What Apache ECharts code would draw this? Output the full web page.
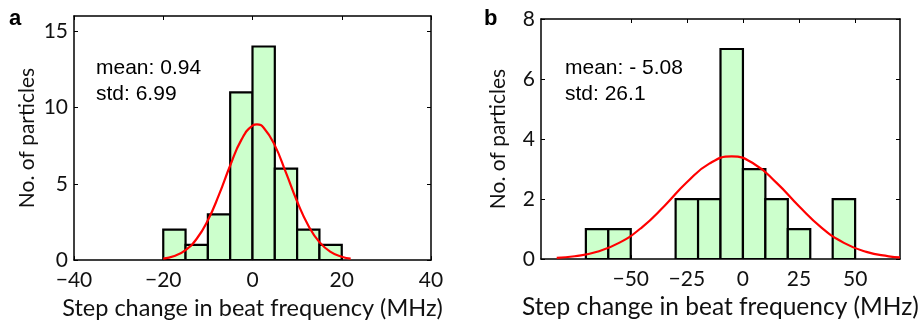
<!DOCTYPE html>
<html><head><meta charset="utf-8">
<script src="https://cdn.jsdelivr.net/npm/echarts@6/dist/echarts.min.js"></script>
<style>html,body{margin:0;padding:0;background:#fff}#c{width:924px;height:325px}</style>
</head><body><div id="c"></div>
<script>
// Panel a: histogram bins [start, end] and counts
const binsA = [[-20,-15],[-15,-10],[-10,-5],[-5,0],[0,5],[5,10],[10,15],[15,20]];
const countsA = [2,1,3,11,14,6,2,1];
// Panel a: fitted curve
const curveAx = [-20,-17.5,-15,-12.5,-10,-7.5,-5,-2.5,0,1,2.5,5,7.5,10,12.5,15,17.5,20,22];
const curveAy = [0.10,0.27,0.66,1.40,2.61,4.29,6.20,7.88,8.82,8.90,8.68,7.52,5.73,3.84,2.27,1.18,0.54,0.22,0.10];
const ticksAx = [-40,-20,0,20,40];
const ticksAy = [0,5,10,15];

// Panel b
const binsB = [[-70,-60],[-60,-50],[-30,-20],[-20,-10],[-10,0],[0,10],[10,20],[20,30],[40,50]];
const countsB = [1,1,2,2,7,3,2,1,2];
const curveBx = [-83,-75,-65,-55,-45,-35,-25,-15,-5,5,15,25,35,45,55,65,70];
const curveBy = [0.04,0.094,0.245,0.55,1.06,1.77,2.56,3.18,3.42,3.17,2.54,1.76,1.05,0.54,0.24,0.093,0.055];
const ticksBx = [-50,-25,0,25,50];
const ticksBy = [0,2,4,6,8];

const statsA = ['mean: 0.94','std: 6.99'];
const statsB = ['mean: - 5.08','std: 26.1'];
const xTitle = 'Step change in beat frequency (MHz)';
const yTitle = 'No. of particles';

const FONT = 'Lato';
const chart = echarts.init(document.getElementById('c'), null, {renderer:'canvas'});

function fmt(v){ return v < 0 ? '\u2212' + Math.abs(v) : String(v); }

function xAxes(gi, min, max, ticks){
  return [{
    type:'value', gridIndex:gi, min:min, max:max, position:'bottom',
    axisLine:{show:true, onZero:false, lineStyle:{color:'#000', width:1.5}},
    axisTick:{show:true, inside:true, length:4, customValues:ticks, lineStyle:{color:'#000',width:1}},
    axisLabel:{show:true, customValues:ticks, formatter:fmt, color:'#111', fontFamily:FONT, fontSize:21, margin:10},
    splitLine:{show:false},
    name: xTitle, nameLocation:'middle', nameGap:gi===0?33:31,
    nameTextStyle:{color:'#111', fontFamily:FONT, fontSize:gi===0?23.5:24.5}
  },{
    type:'value', gridIndex:gi, min:min, max:max, position:'top',
    axisLine:{show:true, onZero:false, lineStyle:{color:'#000', width:1.5}},
    axisTick:{show:true, inside:true, length:4, customValues:ticks, lineStyle:{color:'#000',width:1}},
    axisLabel:{show:false}, splitLine:{show:false}
  }];
}
function yAxes(gi, max, ticks){
  return [{
    type:'value', gridIndex:gi, min:0, max:max, position:'left',
    axisLine:{show:true, onZero:false, lineStyle:{color:'#000', width:1.5}},
    axisTick:{show:true, inside:true, length:4, customValues:ticks, lineStyle:{color:'#000',width:1}},
    axisLabel:{show:true, customValues:ticks, color:'#111', fontFamily:FONT, fontSize:21, margin:6},
    splitLine:{show:false},
    name: yTitle, nameLocation:'middle', nameGap:gi===0?36:32, nameRotate:90,
    nameTextStyle:{color:'#111', fontFamily:FONT, fontSize:21}
  },{
    type:'value', gridIndex:gi, min:0, max:max, position:'right',
    axisLine:{show:true, onZero:false, lineStyle:{color:'#000', width:1.5}},
    axisTick:{show:true, inside:true, length:4, customValues:ticks, lineStyle:{color:'#000',width:1}},
    axisLabel:{show:false}, splitLine:{show:false}
  }];
}

function histSeries(xi, yi, bins, counts){
  return {
    type:'custom', xAxisIndex:xi, yAxisIndex:yi, clip:true,
    data: bins.map((b,i)=>[b[0], b[1], counts[i]]),
    renderItem:function(params, api){
      const p0 = api.coord([api.value(0), api.value(2)]);
      const p1 = api.coord([api.value(1), 0]);
      return {type:'rect', shape:{x:p0[0], y:p0[1], width:p1[0]-p0[0], height:p1[1]-p0[1]},
        style:{fill:'#ccffcc', stroke:'#000', lineWidth:2.2}};
    },
    z:2
  };
}
function curveSeries(xi, yi, xs, ys){
  return {type:'line', xAxisIndex:xi, yAxisIndex:yi, smooth:true, symbol:'none',
    data: xs.map((x,i)=>[x, ys[i]]), lineStyle:{color:'#ff0000', width:2.2}, z:3, silent:true};
}

chart.setOption({
  animation:false,
  grid:[
    {left:74, top:16, width:357, height:246},
    {left:541, top:19, width:359, height:245}
  ],
  xAxis:[...xAxes(0,-40,40,ticksAx), ...xAxes(1,-90,70,ticksBx)],
  yAxis:[...yAxes(0,16,ticksAy), ...yAxes(1,8,ticksBy)],
  series:[
    histSeries(0,0,binsA,countsA),
    curveSeries(0,0,curveAx,curveAy),
    histSeries(2,2,binsB,countsB),
    curveSeries(2,2,curveBx,curveBy)
  ],
  graphic:[
    {type:'text', left:9, top:8, style:{text:'a', font:'bold 22px "Liberation Sans", Arial', fill:'#000'}},
    {type:'text', left:484, top:8, style:{text:'b', font:'bold 22px "Liberation Sans", Arial', fill:'#000'}},
    {type:'text', left:96, top:55, style:{text:statsA.join('\n'), font:'21px "Liberation Sans", Arial', lineHeight:26, fill:'#000'}},
    {type:'text', left:565, top:55, style:{text:statsB.join('\n'), font:'21px "Liberation Sans", Arial', lineHeight:26, fill:'#000'}}
  ]
});
</script></body></html>
